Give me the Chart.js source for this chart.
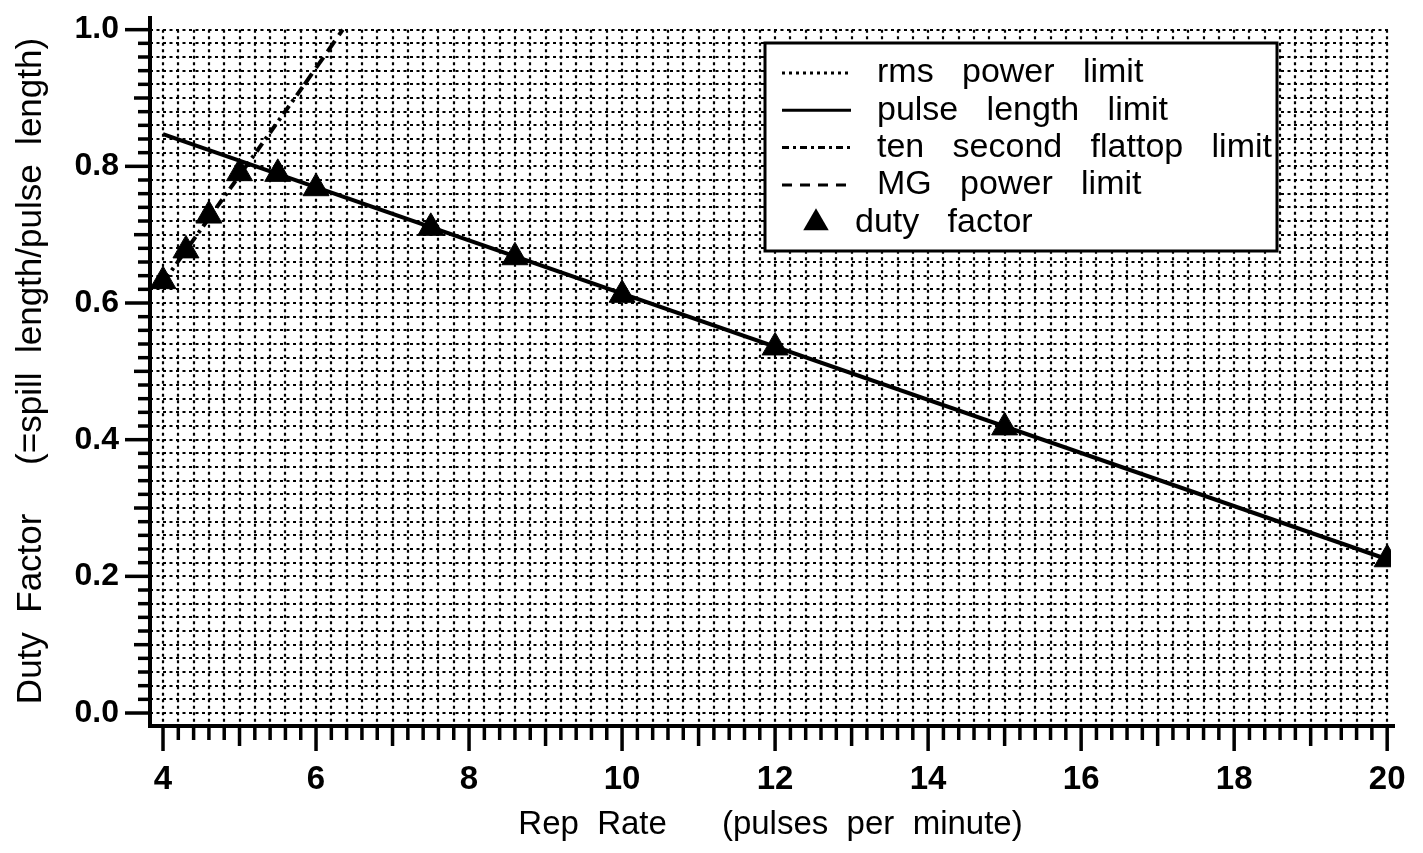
<!DOCTYPE html>
<html>
<head>
<meta charset="utf-8">
<script src="https://cdn.jsdelivr.net/npm/chart.js@4"></script>
<style>
  body { margin: 0; background: #fff; }
  #wrap { width: 1423px; height: 853px; }
</style>
</head>
<body>
<div id="wrap"><canvas id="dutyChart"></canvas></div>
<script>
// duty factor points
const repRate = [4, 4.3, 4.6, 5.0, 5.5, 6.0, 7.5, 8.6, 10, 12, 15, 20];
const dutyFactor = [0.632, 0.677, 0.728, 0.79, 0.789, 0.768, 0.71, 0.667, 0.612, 0.535, 0.418, 0.225];

// limit curves
const rmsX = [];
const rmsY = [];
const pulseX = [4, 20];
const pulseY = [0.847, 0.225];
const flattopX = [4, 5.85];
const flattopY = [0.63, 0.92];
const mgX = [5.85, 6.35];
const mgY = [0.92, 1.0];

const xTickLabels = [4, 6, 8, 10, 12, 14, 16, 18, 20];
const yTickLabels = [0, 0.2, 0.4, 0.6, 0.8, 1.0];

const pts = (xs, ys) => xs.map((v, i) => ({x: v, y: ys[i]}));

const FONT = "'Liberation Sans', Arial, Helvetica, sans-serif";

// dotted grid, axis lines and tick marks
const frame = {
  id: 'frame',
  beforeDatasetsDraw(chart) {
    const {ctx, chartArea: a, scales: {x, y}} = chart;
    ctx.save();
    ctx.strokeStyle = '#000';
    ctx.lineWidth = 2.2;
    ctx.setLineDash([3, 3.5]);
    const top = y.getPixelForValue(1.0);
    for (let i = 0; i <= 50; i++) {
      const py = Math.round(y.getPixelForValue(i * 0.02));
      ctx.beginPath(); ctx.moveTo(a.left, py); ctx.lineTo(a.right, py); ctx.stroke();
    }
    for (let i = 0; i <= 80; i++) {
      const px = Math.round(x.getPixelForValue(4 + i * 0.2));
      ctx.beginPath(); ctx.moveTo(px, top); ctx.lineTo(px, a.bottom); ctx.stroke();
    }
    ctx.setLineDash([]);

    // axes
    ctx.lineWidth = 4;
    ctx.beginPath();
    ctx.moveTo(a.left, a.top);
    ctx.lineTo(a.left, a.bottom);
    ctx.lineTo(a.right + 4, a.bottom);
    ctx.stroke();

    // x ticks
    ctx.lineWidth = 3.5;
    for (let i = 0; i <= 80; i++) {
      const px = x.getPixelForValue(4 + i * 0.2);
      let len = 14;
      if (i % 10 === 0) len = 25;
      else if (i % 5 === 0) len = 20;
      ctx.beginPath(); ctx.moveTo(px, a.bottom); ctx.lineTo(px, a.bottom + len); ctx.stroke();
    }
    // y ticks
    for (let i = 0; i <= 50; i++) {
      const py = y.getPixelForValue(i * 0.02);
      let len = 12;
      if (i % 10 === 0) len = 25;
      else if (i % 5 === 0) len = 16;
      ctx.beginPath(); ctx.moveTo(a.left, py); ctx.lineTo(a.left - len, py); ctx.stroke();
    }
    ctx.restore();
  }
};

// boxed legend inside the plot, top right
const boxLegend = {
  id: 'boxLegend',
  afterDraw(chart) {
    const ctx = chart.ctx;
    const bx = 765, by = 43, bw = 512, bh = 208;
    ctx.save();
    ctx.fillStyle = '#fff';
    ctx.fillRect(bx, by, bw, bh);
    ctx.strokeStyle = '#000';
    ctx.lineWidth = 3;
    ctx.strokeRect(bx, by, bw, bh);
    ctx.font = '34px ' + FONT;
    ctx.textBaseline = 'middle';
    ctx.fillStyle = '#000';
    chart.data.datasets.forEach((ds, i) => {
      const ry = by + 30 + i * 37.3;
      if (ds.pointStyle === 'triangle') {
        const r = 14;
        ctx.beginPath();
        ctx.moveTo(816, ry - r);
        ctx.lineTo(816 + r * 0.91, ry + r * 0.5 + 1);
        ctx.lineTo(816 - r * 0.91, ry + r * 0.5 + 1);
        ctx.closePath();
        ctx.fill();
        ctx.fillText(ds.label, 855, ry);
      } else {
        ctx.lineWidth = 3;
        ctx.setLineDash(ds.legendDash || []);
        ctx.beginPath(); ctx.moveTo(782, ry); ctx.lineTo(851, ry); ctx.stroke();
        ctx.setLineDash([]);
        ctx.fillText(ds.label, 877, ry);
      }
    });
    ctx.restore();
  }
};

const noPad = s => { s.paddingTop = 0; s.paddingBottom = 0; s.paddingLeft = 0; s.paddingRight = 0; };

new Chart(document.getElementById('dutyChart'), {
  type: 'scatter',
  data: {
    datasets: [
      {
        label: 'rms   power   limit',
        data: pts(rmsX, rmsY),
        showLine: true, borderColor: '#000', borderWidth: 4,
        borderDash: [3, 4], legendDash: [3, 4], pointRadius: 0
      },
      {
        label: 'pulse   length   limit',
        data: pts(pulseX, pulseY),
        showLine: true, borderColor: '#000', borderWidth: 4,
        pointRadius: 0
      },
      {
        label: 'ten   second   flattop   limit',
        data: pts(flattopX, flattopY),
        showLine: true, borderColor: '#000', borderWidth: 4,
        borderDash: [10, 5, 3, 5], legendDash: [7, 4, 3, 4], pointRadius: 0
      },
      {
        label: 'MG   power   limit',
        data: pts(mgX, mgY),
        showLine: true, borderColor: '#000', borderWidth: 4,
        borderDash: [13, 7], legendDash: [10, 8], pointRadius: 0
      },
      {
        label: 'duty   factor',
        data: pts(repRate, dutyFactor),
        pointStyle: 'triangle', pointRadius: 15,
        backgroundColor: '#000', borderColor: '#000', borderWidth: 1
      }
    ]
  },
  options: {
    responsive: true,
    maintainAspectRatio: false,
    animation: false,
    layout: { padding: { top: 8, right: 32, left: 0, bottom: 0 } },
    plugins: {
      legend: { display: false },
      tooltip: { enabled: false }
    },
    scales: {
      x: {
        type: 'linear',
        min: 3.83, max: 20.05,
        afterBuildTicks: s => { s.ticks = xTickLabels.map(v => ({value: v})); },
        afterFit: s => { s.height = 127; noPad(s); },
        grid: { display: false, drawTicks: false },
        border: { display: false },
        ticks: {
          padding: 34,
          color: '#000',
          font: { family: FONT, size: 33, weight: 'bold' },
          callback: v => String(v)
        },
        title: {
          display: true,
          text: 'Rep  Rate      (pulses  per  minute)',
          color: '#000',
          font: { family: FONT, size: 33 },
          padding: { top: 0, bottom: 8 }
        }
      },
      y: {
        type: 'linear',
        min: -0.019, max: 1.02,
        afterBuildTicks: s => { s.ticks = yTickLabels.map(v => ({value: v})); },
        afterFit: s => { s.width = 150; noPad(s); },
        grid: { display: false, drawTicks: false },
        border: { display: false },
        ticks: {
          padding: 31,
          color: '#000',
          font: { family: FONT, size: 32, weight: 'bold' },
          callback: v => Number(v).toFixed(1)
        },
        title: {
          display: true,
          text: 'Duty  Factor     (=spill  length/pulse  length)',
          color: '#000',
          font: { family: FONT, size: 35 },
          padding: { top: 10, bottom: 0 }
        }
      }
    }
  },
  plugins: [frame, boxLegend]
});
</script>
</body>
</html>
